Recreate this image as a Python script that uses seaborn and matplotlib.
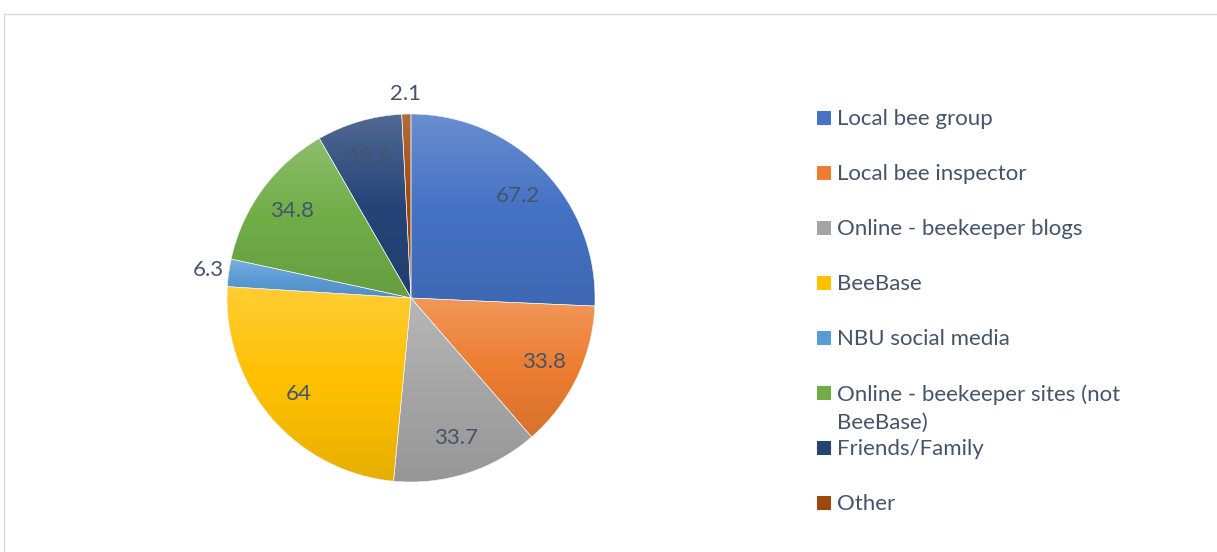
import numpy as np
import matplotlib
matplotlib.use("Agg")
import matplotlib.pyplot as plt
import seaborn as sns
from matplotlib.colors import to_rgb, LinearSegmentedColormap
from matplotlib.patches import Rectangle

sns.set_theme(style="white")
plt.rcParams['font.family'] = ['Lato', 'DejaVu Sans']

categories = ["Local bee group", "Local bee inspector", "Online - beekeeper blogs",
              "BeeBase", "NBU social media", "Online - beekeeper sites (not BeeBase)",
              "Friends/Family", "Other"]
legend_labels = ["Local bee group", "Local bee inspector", "Online - beekeeper blogs",
                 "BeeBase", "NBU social media", "Online - beekeeper sites (not\nBeeBase)",
                 "Friends/Family", "Other"]
values = [67.2, 33.8, 33.7, 64, 6.3, 34.8, 19.6, 2.1]
value_labels = ["67.2", "33.8", "33.7", "64", "6.3", "34.8", "19.6", "2.1"]
outside = [False, False, False, False, True, False, False, True]
colors = ["#4472C4", "#ED7D31", "#A5A5A5", "#FFC000", "#5B9BD5", "#70AD47", "#264478", "#9E480E"]
text_color = "#44546A"

W, H = 1217, 552
fig = plt.figure(figsize=(W / 100, H / 100), dpi=100)
fig.patch.set_facecolor("white")

# chart frame
fig.patches.append(Rectangle((4 / W, -0.05), 1.1, 1 - 14 / H + 0.05, transform=fig.transFigure,
                             fill=False, edgecolor="#D9D9D9", linewidth=1.0))

cx, cy, R = 411, 298, 184
half = 240
ax = fig.add_axes([(cx - half) / W, (H - cy - half) / H, 2 * half / W, 2 * half / H])
lim = half / R

wedges, _ = ax.pie(values, colors=colors, startangle=90, counterclock=False, radius=1.0,
                   wedgeprops=dict(edgecolor="#F4F4F4", linewidth=0.4))
ax.set_aspect("equal")
ax.axis("off")

# gradient fill per slice (lighter top, darker bottom)
for w, c in zip(wedges, colors):
    base = np.array(to_rgb(c))
    top = base + (1 - base) * 0.20
    bot = base * 0.91
    cmap = LinearSegmentedColormap.from_list("g", [bot, base, top])
    verts = w.get_path().vertices
    x0, x1 = verts[:, 0].min(), verts[:, 0].max()
    y0, y1 = verts[:, 1].min(), verts[:, 1].max()
    grad = np.linspace(0, 1, 256).reshape(-1, 1)
    im = ax.imshow(grad, cmap=cmap, extent=[x0, x1, y0, y1], origin="lower",
                   aspect="auto", zorder=w.get_zorder() + 0.1, interpolation="bilinear")
    im.set_clip_path(w)
    w.set_zorder(w.get_zorder() + 0.2)
    w.set_facecolor("none")
ax.set_xlim(-lim, lim)
ax.set_ylim(-lim, lim)

total = sum(values)
cum = 0
for v, lab, out in zip(values, value_labels, outside):
    mid = 90 - (cum + v / 2) / total * 360
    cum += v
    r = 1.11 if out else 0.80
    ang = np.deg2rad(mid)
    ax.text(r * np.cos(ang), r * np.sin(ang), lab, ha="center", va="center",
            fontsize=16, color=text_color, zorder=10)

# legend
ys = [118, 173, 228, 283, 338, 393, 448, 503]
for y, lab, c in zip(ys, legend_labels, colors):
    fig.patches.append(Rectangle((817 / W, 1 - (y + 7) / H), 14 / W, 14 / H,
                                 transform=fig.transFigure, facecolor=c, edgecolor="none"))
    fig.text(837 / W, 1 - (y - 9) / H, lab, ha="left", va="top", fontsize=16,
             color=text_color, linespacing=1.5)

fig.savefig("out.png", dpi=100, facecolor="white")
